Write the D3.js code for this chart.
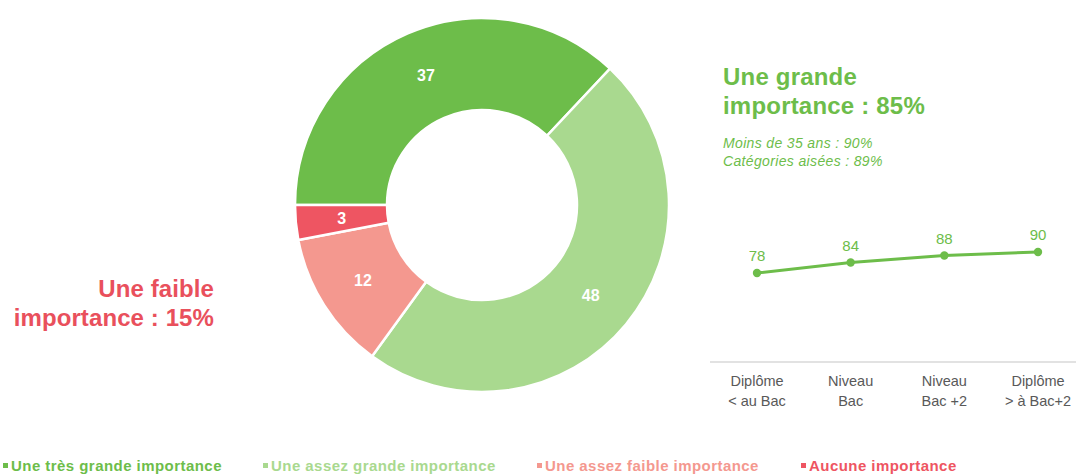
<!DOCTYPE html>
<html>
<head>
<meta charset="utf-8">
<script src="https://cdn.jsdelivr.net/npm/d3@7/dist/d3.min.js"></script>
<style>
  body { margin: 0; background: #fff; }
  svg { font-family: "Liberation Sans", Arial, sans-serif; }
</style>
</head>
<body>
<div id="chart"></div>
<script>
// donut data (share of answers, %)
const donutLabels = ["Une très grande importance", "Une assez grande importance", "Une assez faible importance", "Aucune importance"];
const donutValues = [37, 48, 12, 3];
const donutColors = ["#6dbd4a", "#a9d98f", "#f4988f", "#ee5562"];

// line chart: "grande importance" by diploma
const levelLabels = [["Diplôme", "< au Bac"], ["Niveau", "Bac"], ["Niveau", "Bac +2"], ["Diplôme", "> à Bac+2"]];
const levelValues = [78, 84, 88, 90];

const width = 1076, height = 476;
const svg = d3.select("#chart").append("svg")
  .attr("width", width)
  .attr("height", height);

// ---- donut
const cx = 482, cy = 205, rOuter = 187, rInner = 95;
const pie = d3.pie().sort(null).startAngle(-Math.PI / 2).endAngle(1.5 * Math.PI);
const arc = d3.arc().innerRadius(rInner).outerRadius(rOuter);
const arcs = pie(donutValues);

const donut = svg.append("g").attr("transform", `translate(${cx},${cy})`);
donut.selectAll("path").data(arcs).enter().append("path")
  .attr("d", arc)
  .attr("fill", (d, i) => donutColors[i])
  .attr("stroke", "#fff")
  .attr("stroke-width", 2.5);

donut.selectAll("text").data(arcs).enter().append("text")
  .attr("transform", d => `translate(${arc.centroid(d)})`)
  .attr("text-anchor", "middle")
  .attr("dy", "0.36em")
  .attr("fill", "#fff")
  .attr("font-weight", "bold")
  .attr("font-size", 16)
  .text(d => d.data);

// ---- big labels
const greenTitle = svg.append("text")
  .attr("x", 723).attr("y", 85)
  .attr("fill", "#6dbd4a").attr("font-weight", "bold").attr("font-size", 24)
  .attr("letter-spacing", 0.2);
greenTitle.append("tspan").attr("x", 723).text("Une grande");
greenTitle.append("tspan").attr("x", 723).attr("dy", 29).text("importance : 85%");

const subs = ["Moins de 35 ans : 90%", "Catégories aisées : 89%"];
svg.selectAll(".sub").data(subs).enter().append("text")
  .attr("class", "sub")
  .attr("x", 723)
  .attr("y", (d, i) => 148 + i * 18)
  .attr("fill", "#6dbd4a")
  .attr("font-style", "italic")
  .attr("font-size", 14)
  .attr("letter-spacing", 0.35)
  .text(d => d);

const redTitle = svg.append("text")
  .attr("x", 214).attr("y", 297)
  .attr("text-anchor", "end")
  .attr("fill", "#e9505c").attr("font-weight", "bold").attr("font-size", 24)
  .attr("letter-spacing", 0.1);
redTitle.append("tspan").attr("x", 214).text("Une faible");
redTitle.append("tspan").attr("x", 214).attr("dy", 29).text("importance : 15%");

// ---- line chart
const x = d3.scalePoint()
  .domain(d3.range(levelValues.length))
  .range([757, 1038]);
const y = d3.scaleLinear().domain([0, 100]).range([409.5, 234.5]);

svg.append("line")
  .attr("x1", 710).attr("x2", 1076)
  .attr("y1", 362).attr("y2", 362)
  .attr("stroke", "#d9d9d9").attr("stroke-width", 1.5);

const line = d3.line().x((d, i) => x(i)).y(d => y(d));
svg.append("path")
  .datum(levelValues)
  .attr("d", line)
  .attr("fill", "none")
  .attr("stroke", "#6dbd4a")
  .attr("stroke-width", 3);

svg.selectAll(".dot").data(levelValues).enter().append("circle")
  .attr("class", "dot")
  .attr("cx", (d, i) => x(i)).attr("cy", d => y(d))
  .attr("r", 4.2)
  .attr("fill", "#6dbd4a");

svg.selectAll(".val").data(levelValues).enter().append("text")
  .attr("class", "val")
  .attr("x", (d, i) => x(i)).attr("y", d => y(d) - 12)
  .attr("text-anchor", "middle")
  .attr("fill", "#6dbd4a")
  .attr("font-size", 15)
  .text(d => d);

const cat = svg.selectAll(".cat").data(levelLabels).enter().append("text")
  .attr("class", "cat")
  .attr("text-anchor", "middle")
  .attr("fill", "#595959")
  .attr("font-size", 14.5);
cat.each(function (d, i) {
  const t = d3.select(this);
  d.forEach((s, j) => {
    t.append("tspan").attr("x", x(i)).attr("y", 386 + j * 20).text(s);
  });
});

// ---- legend
const legendX = [3, 263, 537, 801];
const leg = svg.selectAll(".leg").data(donutLabels).enter().append("g")
  .attr("class", "leg")
  .attr("transform", (d, i) => `translate(${legendX[i]},471)`);
leg.append("rect")
  .attr("x", 0).attr("y", -8).attr("width", 5).attr("height", 5)
  .attr("fill", (d, i) => donutColors[i]);
leg.append("text")
  .attr("x", 8).attr("y", 0)
  .attr("fill", (d, i) => donutColors[i])
  .attr("font-weight", "bold")
  .attr("font-size", 15)
  .attr("letter-spacing", 0.45)
  .text(d => d);
</script>
</body>
</html>
